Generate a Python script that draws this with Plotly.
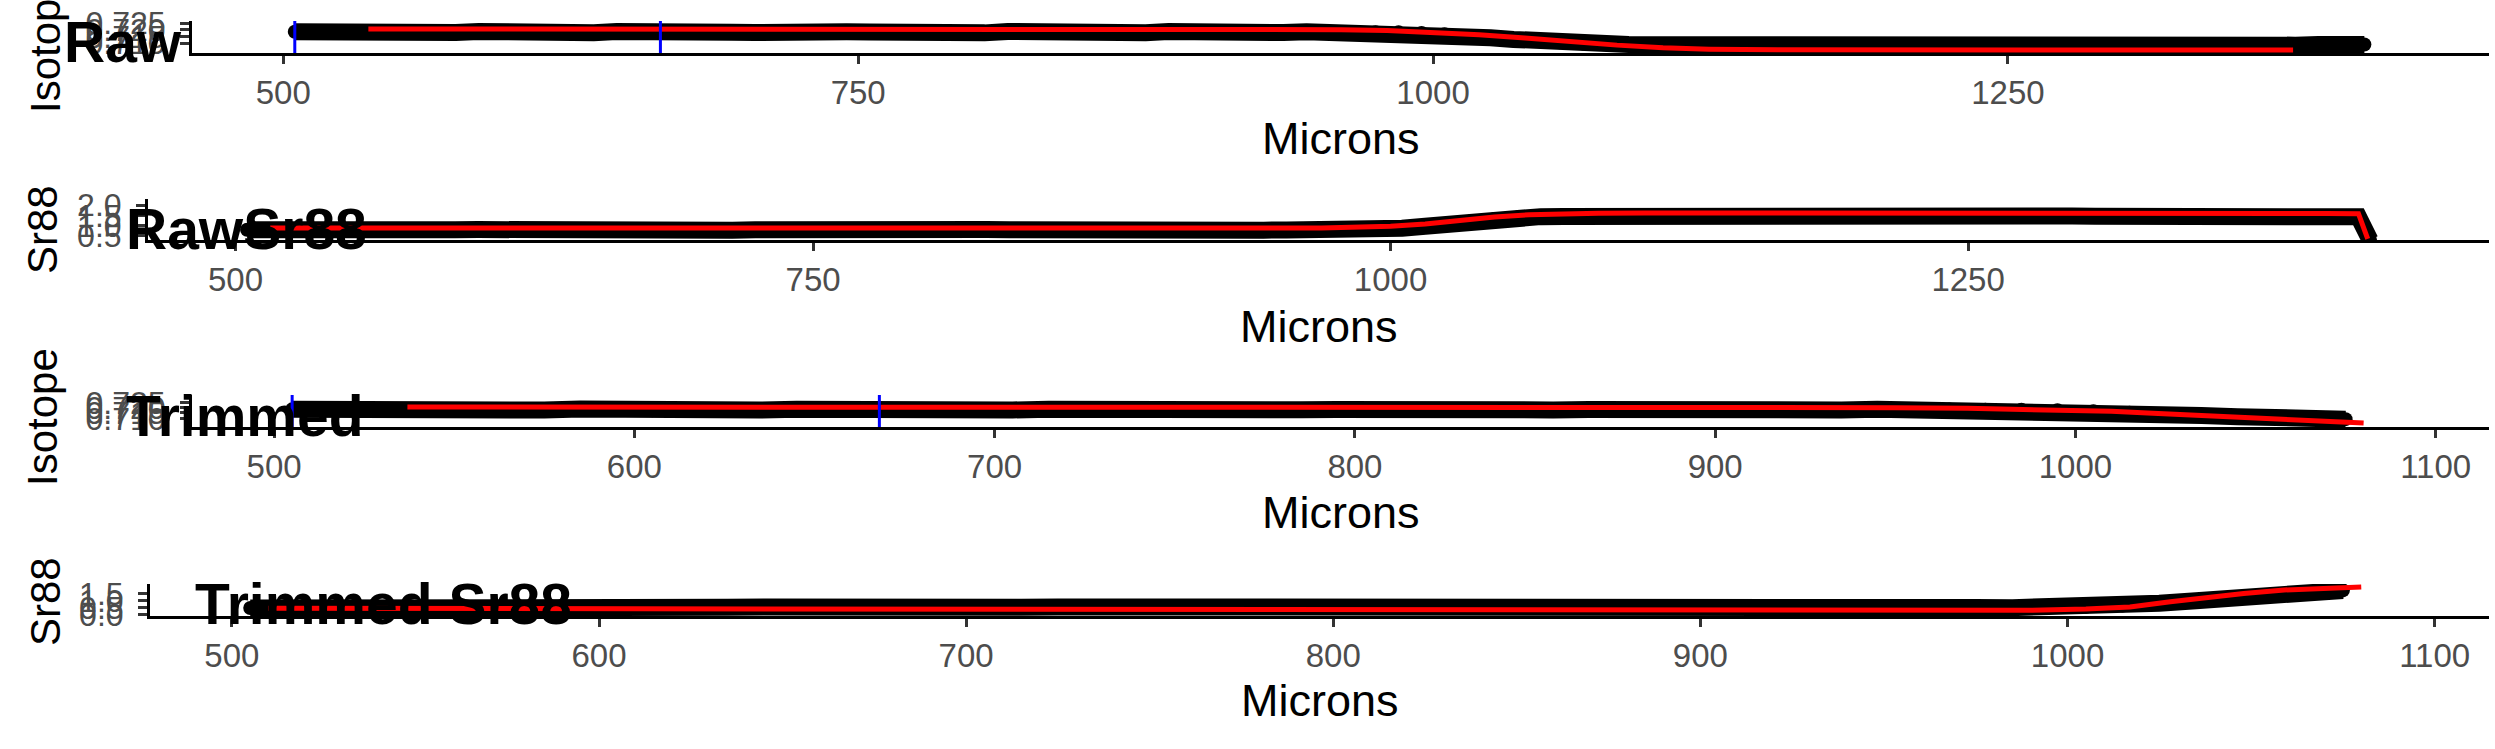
import plotly.graph_objects as go

W, H = 2495, 749

# ---------------- data ----------------
x_raw = [505, 515, 525, 535, 545, 555, 565, 575, 585, 595, 605, 615, 625, 635, 645, 655, 665, 675, 685, 695,
         705, 715, 725, 735, 745, 755, 765, 775, 785, 795, 805, 815, 825, 835, 845, 855, 865, 875, 885, 895,
         905, 915, 925, 935, 945, 955, 965, 975, 985, 995, 1005, 1015, 1025, 1035, 1045, 1055, 1065, 1075,
         1085, 1095, 1105, 1115, 1125, 1135, 1145, 1155, 1165, 1175, 1185, 1195, 1205, 1215, 1225, 1235,
         1245, 1255, 1265, 1275, 1285, 1295, 1305, 1315, 1325, 1335, 1345, 1355, 1365, 1375, 1385, 1395,
         1405, 1419, 1424]

# isotope ratio is recorded up to 1405 µm (first 91 positions)
raw_isotope = [0.7184, 0.7179, 0.7186, 0.7181, 0.7176, 0.7185, 0.7182, 0.7178, 0.7187, 0.7180,
               0.7175, 0.7184, 0.7181, 0.7177, 0.7186, 0.7179, 0.7183, 0.7176, 0.7185, 0.7181,
               0.7178, 0.7186, 0.7180, 0.7175, 0.7184, 0.7182, 0.7177, 0.7185, 0.7180, 0.7183,
               0.7176, 0.7186, 0.7181, 0.7178, 0.7185, 0.7179, 0.7183, 0.7177, 0.7186, 0.7180,
               0.7176, 0.7184, 0.7182, 0.7178, 0.7185, 0.7181, 0.7183, 0.7180, 0.7180, 0.7175,
               0.7165, 0.7153, 0.7140, 0.7127, 0.7115, 0.7105, 0.7097, 0.7092, 0.7089, 0.7087,
               0.7086, 0.7083, 0.7088, 0.7084, 0.7087, 0.7082, 0.7086, 0.7089, 0.7084, 0.7085,
               0.7088, 0.7083, 0.7086, 0.7084, 0.7087, 0.7085, 0.7082, 0.7088, 0.7085, 0.7083,
               0.7086, 0.7089, 0.7084, 0.7086, 0.7083, 0.7087, 0.7085, 0.7084, 0.7088, 0.7087,
               0.7089]

raw_sr88 = [0.80, 0.78, 0.81, 0.79, 0.77, 0.80, 0.82, 0.79, 0.78, 0.80, 0.81, 0.79, 0.77, 0.80, 0.79,
            0.82, 0.80, 0.78, 0.79, 0.81, 0.80, 0.78, 0.80, 0.82, 0.79, 0.78, 0.80, 0.81, 0.79, 0.77,
            0.80, 0.79, 0.81, 0.80, 0.78, 0.79, 0.80, 0.78, 0.77, 0.79, 0.78, 0.80, 0.79, 0.77, 0.78,
            0.79, 0.78, 0.80, 0.80, 0.82,
            0.87, 0.97, 1.10, 1.23, 1.33, 1.40, 1.44, 1.45, 1.46, 1.46,
            1.46, 1.45, 1.47, 1.46, 1.48, 1.47, 1.46, 1.48, 1.49, 1.47, 1.48, 1.49, 1.48, 1.50, 1.49,
            1.48, 1.49, 1.50, 1.48, 1.47, 1.46, 1.45, 1.44, 1.43, 1.44, 1.43, 1.42, 1.43, 1.44, 1.43,
            1.42, 1.43, 0.30]

# smoothed (red) curves
raw_iso_fit_x = [537, 580, 620, 660, 700, 740, 780, 820, 860, 900, 940, 960, 980, 1000, 1020, 1040,
                 1060, 1080, 1100, 1120, 1150, 1200, 1250, 1300, 1350, 1374]
raw_iso_fit_y = [0.7205, 0.7205, 0.7206, 0.7205, 0.7205, 0.7206, 0.7205, 0.7205, 0.7205, 0.7205,
                 0.7204, 0.7200, 0.7193, 0.7180, 0.7162, 0.7138, 0.7110, 0.7084, 0.7065, 0.7054,
                 0.7049, 0.7048, 0.7047, 0.7047, 0.7047, 0.7047]

raw_sr_fit_x = [515, 540, 580, 620, 660, 700, 740, 780, 820, 860, 900, 940, 970, 985, 1000, 1015,
                1030, 1045, 1060, 1075, 1090, 1110, 1130, 1150, 1170, 1190, 1210, 1230, 1250, 1270,
                1290, 1310, 1330, 1350, 1370, 1390, 1405, 1419, 1423]
raw_sr_fit_y = [0.88, 0.89, 0.88, 0.89, 0.88, 0.89, 0.88, 0.87, 0.88, 0.87, 0.87, 0.88, 0.89, 0.91,
                0.97, 1.08, 1.26, 1.42, 1.53, 1.58, 1.61, 1.62, 1.62, 1.61, 1.63, 1.62, 1.64, 1.63,
                1.65, 1.64, 1.63, 1.62, 1.61, 1.60, 1.59, 1.60, 1.59, 1.58, 0.35]

trim_limit = 1080

trim_iso_fit_x = [537, 580, 620, 660, 700, 740, 780, 820, 860, 900, 930, 950, 970, 990, 1000, 1010,
                  1020, 1030, 1040, 1050, 1060, 1070, 1080]
trim_iso_fit_y = [0.7206, 0.7206, 0.7206, 0.7206, 0.7207, 0.7207, 0.7207, 0.7207, 0.7207, 0.7206,
                  0.7204, 0.7200, 0.7194, 0.7184, 0.7177, 0.7165, 0.7150, 0.7134, 0.7117, 0.7100,
                  0.7080, 0.7064, 0.7056]

trim_sr88 = [0.48, 0.46, 0.50, 0.47, 0.49, 0.52, 0.48, 0.50, 0.53, 0.49, 0.51, 0.54, 0.50, 0.52, 0.55,
             0.51, 0.53, 0.56, 0.52, 0.54, 0.57, 0.53, 0.55, 0.56, 0.54, 0.57, 0.55, 0.56, 0.58, 0.55,
             0.57, 0.56, 0.54, 0.56, 0.53, 0.55, 0.52, 0.54, 0.51, 0.53, 0.50, 0.52, 0.49, 0.51, 0.48,
             0.50, 0.49, 0.51, 0.50, 0.52,
             0.56, 0.66, 0.82, 1.00, 1.20, 1.42, 1.62, 1.74]

trim_sr_fit_x = [510, 540, 580, 620, 660, 700, 740, 780, 820, 860, 900, 940, 970, 990, 1005, 1017,
                 1028, 1038, 1048, 1059, 1070, 1080]
trim_sr_fit_y = [0.45, 0.44, 0.43, 0.41, 0.40, 0.37, 0.36, 0.34, 0.33, 0.31, 0.30, 0.28, 0.28, 0.31,
                 0.40, 0.55, 0.92, 1.26, 1.52, 1.77, 1.90, 1.98]

raw_window = [505, 664]
trim_window = [505, 668]

titles = ["Raw", "RawSr88", "Trimmed", "Trimmed Sr88"]
y_titles = ["Isotope", "Sr88", "Isotope", "Sr88"]
x_title = "Microns"

raw_ticks = [500, 750, 1000, 1250]
trim_ticks = [500, 600, 700, 800, 900, 1000, 1100]
iso_ticks = [0.710, 0.715, 0.720, 0.725]
iso_labels = ["0.710", "0.715", "0.720", "0.725"]
sr_ticks = [0.5, 1.0, 1.5, 2.0]
sr_labels = ["0.5", "1.0", "1.5", "2.0"]
trsr_ticks = [0.0, 0.5, 1.0, 1.5]
trsr_labels = ["0.0", "0.5", "1.0", "1.5"]

iso_x = x_raw[:len(raw_isotope)]
trim_x = [v for v in x_raw if v <= trim_limit]
trim_iso = raw_isotope[:len(trim_x)]

# ---------------- layout geometry (pixels) ----------------
panels = [
    dict(x0=192, x1=2489, top=21, bot=53, xr=[460.3, 1459.2], yr=[0.7025, 0.7265],
         xt=raw_ticks, yt=iso_ticks, yl=iso_labels, title_x=62, title_y=42, ytx=45, yty=44,
         mic_y=138, win=raw_window),
    dict(x0=148, x1=2489, top=199, bot=240, xr=[462.1, 1475.5], yr=[0.3, 2.3],
         xt=raw_ticks, yt=sr_ticks, yl=sr_labels, title_x=124, title_y=229, ytx=42, yty=230,
         mic_y=326, win=None),
    dict(x0=192, x1=2489, top=395, bot=427, xr=[477.2, 1114.8], yr=[0.70185, 0.73185],
         xt=trim_ticks, yt=iso_ticks, yl=iso_labels, title_x=124, title_y=416, ytx=42, yty=417,
         mic_y=512, win=trim_window),
    dict(x0=150, x1=2489, top=584, bot=616, xr=[477.7, 1114.8], yr=[-0.1, 2.2],
         xt=trim_ticks, yt=trsr_ticks, yl=trsr_labels, title_x=193, title_y=604, ytx=45, yty=602,
         mic_y=700, win=None),
]

series = [
    (iso_x, raw_isotope, raw_iso_fit_x, raw_iso_fit_y),
    (x_raw, raw_sr88, raw_sr_fit_x, raw_sr_fit_y),
    (trim_x, trim_iso, trim_iso_fit_x, trim_iso_fit_y),
    (trim_x, trim_sr88, trim_sr_fit_x, trim_sr_fit_y),
]

FONT = "Liberation Sans, Arial, Helvetica, sans-serif"
fig = go.Figure()

for i, (p, s) in enumerate(zip(panels, series)):
    n = "" if i == 0 else str(i + 1)
    xa, ya = "x" + n, "y" + n
    bx, by, rx, ry = s
    fig.add_trace(go.Scatter(x=bx, y=by, mode="lines+markers",
                             line=dict(color="black", width=17),
                             marker=dict(color="black", size=14),
                             xaxis=xa, yaxis=ya, showlegend=False, hoverinfo="skip"))
    fig.add_trace(go.Scatter(x=rx, y=ry, mode="lines",
                             line=dict(color="#FF0000", width=5),
                             xaxis=xa, yaxis=ya, showlegend=False, hoverinfo="skip"))
    fig.layout["xaxis" + n] = dict(
        domain=[p["x0"] / W, p["x1"] / W], range=p["xr"], anchor=ya, automargin=False,
        showline=True, linecolor="black", linewidth=3, showgrid=False, zeroline=False,
        ticks="outside", ticklen=8, tickwidth=2.5, tickcolor="#333333",
        tickvals=p["xt"], ticktext=[str(t) for t in p["xt"]],
        tickfont=dict(family=FONT, size=33, color="#4D4D4D"), ticklabelstandoff=0)
    fig.layout["yaxis" + n] = dict(
        domain=[1 - p["bot"] / H, 1 - p["top"] / H], range=p["yr"], anchor=xa, automargin=False,
        showline=True, linecolor="black", linewidth=3, showgrid=False, zeroline=False,
        ticks="outside", ticklen=9, tickwidth=2.5, tickcolor="#333333",
        tickvals=p["yt"], ticktext=p["yl"],
        tickfont=dict(family=FONT, size=32, color="#4D4D4D"), ticklabelstandoff=8)
    if p["win"]:
        for v in p["win"]:
            fig.add_shape(type="line", xref=xa, yref=ya + " domain", x0=v, x1=v, y0=0, y1=1,
                          line=dict(color="#0000FF", width=3), layer="above")
    # panel title
    fig.add_annotation(xref="paper", yref="paper", x=p["title_x"] / W, y=1 - p["title_y"] / H,
                       text="<b>%s</b>" % titles[i], showarrow=False, xanchor="left", yanchor="middle",
                       font=dict(family=FONT, size=57, color="black"))
    # y title
    fig.add_annotation(xref="paper", yref="paper", x=p["ytx"] / W, y=1 - p["yty"] / H,
                       text=y_titles[i], showarrow=False, textangle=-90,
                       xanchor="center", yanchor="middle",
                       font=dict(family=FONT, size=42, color="black"))
    # x title
    fig.add_annotation(xref="paper", yref="paper", x=((p["x0"] + p["x1"]) / 2) / W,
                       y=1 - p["mic_y"] / H, text=x_title, showarrow=False,
                       xanchor="center", yanchor="middle",
                       font=dict(family=FONT, size=45, color="black"))

fig.update_layout(width=W, height=H, autosize=False,
                  margin=dict(l=0, r=0, t=0, b=0, pad=0, autoexpand=False),
                  paper_bgcolor="white", plot_bgcolor="white", showlegend=False)

fig.write_html("out.html", config={"displayModeBar": False},
               post_script="document.body.style.margin='0px';document.body.style.padding='0px';")
